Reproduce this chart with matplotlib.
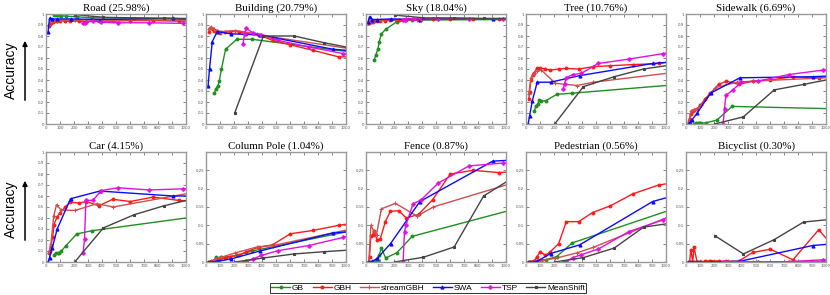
import matplotlib
matplotlib.use("Agg")
import matplotlib.pyplot as plt
from matplotlib.patches import FancyArrowPatch

# ── Data ─────────────────────────────────────────────────────────────────────
# x positions (number of supervoxels) per method; the last point sits on the
# right border and carries no marker
GB_X = [60, 70, 85, 95, 110, 140, 220, 330, 1000]
GBH_X = [20, 25, 35, 48, 57, 79, 102, 138, 174, 233, 288, 376, 476, 602, 764, 948, 1000]
SGBH_X = [20, 35, 55, 75, 110, 210, 365, 480, 1000]
SWA_X = [15, 25, 45, 80, 175, 385, 905, 1000]
TSP_X = [265, 275, 285, 335, 395, 515, 735, 980, 1000]
MS_X = [205, 410, 630, 840, 1000]

classes = ["Road (25.98%)", "Building (20.79%)", "Sky (18.04%)", "Tree (10.76%)",
           "Sidewalk (6.69%)", "Car (4.15%)", "Column Pole (1.04%)", "Fence (0.87%)",
           "Pedestrian (0.56%)", "Bicyclist (0.30%)"]

gb = [
    [0.99, 0.99, 0.99, 0.99, 0.985, 0.98, 0.975, 0.965, 0.96],
    [0.28, 0.32, 0.35, 0.39, 0.50, 0.68, 0.77, 0.77, 0.66],
    [0.58, 0.63, 0.68, 0.75, 0.82, 0.86, 0.93, 0.945, 0.95],
    [0.12, 0.16, 0.18, 0.22, 0.21, 0.21, 0.27, 0.28, 0.35],
    [0.0, 0.005, 0.005, 0.01, 0.01, 0.01, 0.035, 0.16, 0.14],
    [0.06, 0.085, 0.08, 0.08, 0.10, 0.145, 0.255, 0.285, 0.40],
    [0.0, 0.014, 0.004, 0.011, 0.013, 0.013, 0.018, 0.03, 0.082],
    [0.0, 0.002, 0.002, 0.02, 0.038, 0.011, 0.025, 0.07, 0.138],
    [0.002, 0.003, 0.003, 0.004, 0.005, 0.006, 0.015, 0.052, 0.138],
    [0.0, 0.0, 0.0, 0.0, 0.0, 0.0, 0.0, 0.0, 0.001],
]
gbh = [
    [0.89, 0.91, 0.92, 0.93, 0.935, 0.94, 0.94, 0.935, 0.935, 0.935, 0.93, 0.935, 0.935, 0.94, 0.94, 0.935, 0.935],
    [0.84, 0.87, 0.87, 0.86, 0.85, 0.85, 0.83, 0.84, 0.84, 0.84, 0.82, 0.81, 0.76, 0.72, 0.67, 0.61, 0.61],
    [0.92, 0.93, 0.93, 0.93, 0.935, 0.94, 0.94, 0.94, 0.945, 0.945, 0.95, 0.95, 0.955, 0.955, 0.955, 0.955, 0.955],
    [0.23, 0.29, 0.40, 0.45, 0.46, 0.51, 0.51, 0.50, 0.49, 0.50, 0.505, 0.50, 0.52, 0.53, 0.54, 0.55, 0.56],
    [0.03, 0.05, 0.09, 0.12, 0.13, 0.14, 0.17, 0.23, 0.28, 0.36, 0.39, 0.36, 0.39, 0.40, 0.43, 0.42, 0.43],
    [0.08, 0.10, 0.15, 0.23, 0.34, 0.41, 0.45, 0.50, 0.545, 0.535, 0.55, 0.51, 0.57, 0.55, 0.59, 0.56, 0.555],
    [0.0, 0.0, 0.0, 0.001, 0.002, 0.004, 0.008, 0.012, 0.015, 0.018, 0.028, 0.04, 0.047, 0.077, 0.086, 0.10, 0.103],
    [0.0, 0.015, 0.07, 0.075, 0.085, 0.06, 0.063, 0.11, 0.138, 0.14, 0.12, 0.13, 0.17, 0.24, 0.25, 0.244, 0.245],
    [0.0, 0.0, 0.0, 0.0, 0.002, 0.015, 0.028, 0.018, 0.028, 0.05, 0.11, 0.11, 0.135, 0.153, 0.186, 0.21, 0.213],
    [0.0, 0.0, 0.034, 0.0, 0.041, 0.0, 0.0, 0.002, 0.004, 0.002, 0.002, 0.002, 0.026, 0.035, 0.006, 0.088, 0.065],
]
sgbh = [
    [0.90, 0.93, 0.94, 0.94, 0.945, 0.945, 0.945, 0.945, 0.945],
    [0.86, 0.88, 0.86, 0.85, 0.84, 0.85, 0.82, 0.79, 0.69],
    [0.93, 0.94, 0.94, 0.945, 0.945, 0.95, 0.95, 0.955, 0.955],
    [0.27, 0.42, 0.46, 0.48, 0.49, 0.37, 0.35, 0.38, 0.46],
    [0.02, 0.12, 0.13, 0.13, 0.17, 0.33, 0.38, 0.39, 0.42],
    [0.08, 0.16, 0.42, 0.52, 0.47, 0.47, 0.53, 0.50, 0.62],
    [0.0, 0.002, 0.006, 0.01, 0.013, 0.025, 0.041, 0.045, 0.087],
    [0.0, 0.10, 0.085, 0.075, 0.145, 0.16, 0.125, 0.15, 0.21],
    [0.0, 0.0, 0.001, 0.002, 0.004, 0.01, 0.025, 0.04, 0.12],
    [0.0, 0.0, 0.0, 0.0, 0.0, 0.0, 0.0, 0.0, 0.002],
]
swa = [
    [0.84, 0.96, 0.955, 0.955, 0.955, 0.95, 0.96, 0.955],
    [0.35, 0.50, 0.75, 0.84, 0.82, 0.81, 0.68, 0.67],
    [0.93, 0.975, 0.95, 0.95, 0.955, 0.95, 0.955, 0.955],
    [0.0, 0.07, 0.21, 0.38, 0.38, 0.44, 0.55, 0.56],
    [0.0, 0.01, 0.04, 0.10, 0.28, 0.42, 0.43, 0.435],
    [0.0, 0.04, 0.13, 0.30, 0.575, 0.645, 0.60, 0.60],
    [0.0, 0.0, 0.0, 0.002, 0.008, 0.03, 0.079, 0.082],
    [0.0, 0.0, 0.002, 0.01, 0.05, 0.165, 0.275, 0.277],
    [0.0, 0.0, 0.0, 0.002, 0.023, 0.047, 0.165, 0.175],
    [0.0, 0.0, 0.0, 0.0, 0.0, 0.002, 0.045, 0.048],
]
tsp = [
    [0.92, 0.915, 0.925, 0.94, 0.925, 0.92, 0.92, 0.915, 0.915],
    [0.73, 0.82, 0.87, 0.83, 0.81, 0.76, 0.70, 0.64, 0.64],
    [0.95, 0.95, 0.955, 0.955, 0.955, 0.955, 0.955, 0.955, 0.955],
    [0.32, 0.36, 0.42, 0.45, 0.46, 0.55, 0.59, 0.64, 0.645],
    [0.0, 0.14, 0.26, 0.31, 0.38, 0.39, 0.45, 0.49, 0.49],
    [0.08, 0.21, 0.56, 0.56, 0.65, 0.675, 0.655, 0.665, 0.665],
    [0.0, 0.001, 0.002, 0.008, 0.018, 0.031, 0.045, 0.067, 0.07],
    [0.0, 0.083, 0.10, 0.158, 0.17, 0.215, 0.262, 0.27, 0.27],
    [0.0, 0.0, 0.001, 0.012, 0.02, 0.035, 0.083, 0.115, 0.12],
    [0.0, 0.0, 0.0, 0.0, 0.0, 0.0, 0.001, 0.006, 0.006],
]
ms = [
    [0.995, 0.97, 0.965, 0.96, 0.955],
    [0.10, 0.80, 0.80, 0.74, 0.70],
    [0.99, 0.965, 0.965, 0.96, 0.96],
    [0.0, 0.34, 0.43, 0.50, 0.53],
    [0.0, 0.065, 0.31, 0.36, 0.40],
    [0.0, 0.31, 0.43, 0.51, 0.56],
    [0.0, 0.011, 0.022, 0.028, 0.032],
    [0.0, 0.013, 0.041, 0.18, 0.218],
    [0.0, 0.012, 0.038, 0.095, 0.104],
    [0.072, 0.022, 0.061, 0.109, 0.115],
]

# name, x, y-table, colour, marker, marker size
methods = [
    ("GB", GB_X, gb, "#1f8f1f", "o", 2.0),
    ("GBH", GBH_X, gbh, "#ff1a1a", "o", 2.0),
    ("streamGBH", SGBH_X, sgbh, "#cd4f4f", "+", 3.0),
    ("SWA", SWA_X, swa, "#0a0aff", "^", 2.2),
    ("TSP", TSP_X, tsp, "#e010e0", "P", 2.4),
    ("MeanShift", MS_X, ms, "#444444", "s", 1.7),
]

# ── Figure ───────────────────────────────────────────────────────────────────
W, H = 830, 295
fig = plt.figure(figsize=(W / 100, H / 100), dpi=100)

AX_W, AX_H = 140, 110
lefts = [46, 206, 366, 526, 686]
tops = [14, 152]

handles = []
for i, title in enumerate(classes):
    row, col = divmod(i, 5)
    x0 = lefts[col] / W
    y0 = 1 - (tops[row] + AX_H) / H
    ax = fig.add_axes([x0, y0, AX_W / W, AX_H / H])

    for name, xs, table, color, mk, ms_ in methods:
        ys = table[i]
        ln, = ax.plot(xs, ys, color=color, lw=1.0, marker=mk, ms=ms_,
                      mew=0.8, markevery=slice(0, len(xs) - 1), label=name)
        if i == 0:
            handles.append(ln)

    small = i >= 6
    ax.set_xlim(0, 1000)
    ax.set_xticks(range(0, 1001, 100))
    ax.set_xticklabels([str(v) for v in range(0, 1001, 100)])
    if small:
        ax.set_ylim(0, 0.3)
        ax.set_yticks([0, 0.05, 0.1, 0.15, 0.2, 0.25])
        ax.set_yticklabels(["0", "0.05", "0.1", "0.15", "0.2", "0.25"])
    else:
        ax.set_ylim(0, 1)
        ax.set_yticks([k / 10 for k in range(11)])
        ax.set_yticklabels(["0"] + [f"0.{k}" for k in range(1, 10)] + ["1"])

    ax.tick_params(direction="in", length=2, width=0.5, labelsize=2.8,
                   pad=1.5, top=True, right=True, colors="#555555")
    for s in ax.spines.values():
        s.set_color("#999999")
        s.set_linewidth(1.0)
    ax.set_title(title, family="Liberation Serif", fontsize=7.8, pad=2)

# "Accuracy" labels with upward arrows
for cy, (ya, yb) in [(70, (103, 38)), (209, (243, 178))]:
    fig.text(11 / W, 1 - cy / H, "Accuracy", rotation=90, ha="center",
             va="center", family="Liberation Sans", fontsize=10)
    fig.add_artist(FancyArrowPatch((25 / W, 1 - ya / H), (25 / W, 1 - yb / H),
                                   transform=fig.transFigure, arrowstyle="-|>",
                                   mutation_scale=7, lw=1.1, color="k"))

leg = fig.legend(handles=handles, loc="center", ncol=6,
                 bbox_to_anchor=(428 / W, 1 - 288 / H),
                 prop={"family": "Liberation Sans", "size": 6.0},
                 frameon=True, fancybox=False, edgecolor="k",
                 handlelength=2.3, handletextpad=0.2, columnspacing=1.0,
                 borderpad=0.15, borderaxespad=0)
leg.get_frame().set_linewidth(0.7)

fig.savefig("out.png", dpi=100)
